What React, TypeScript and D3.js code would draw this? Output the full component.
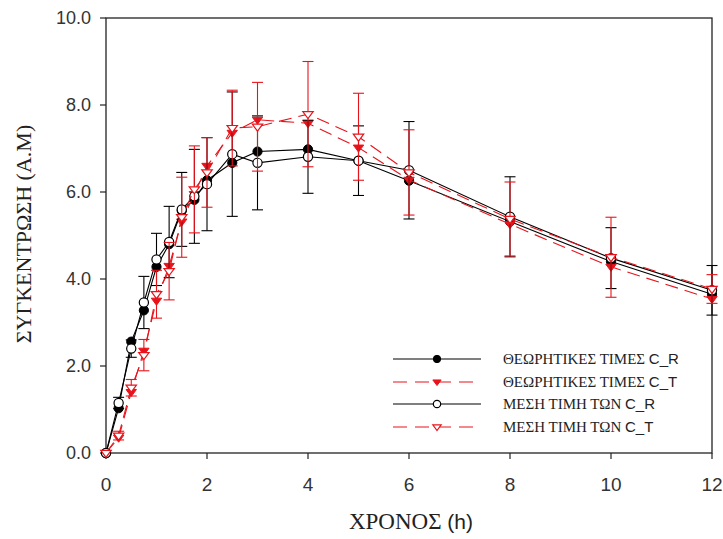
import React from "react";
import * as d3 from "d3";

const times = [0, 0.25, 0.5, 0.75, 1, 1.25, 1.5, 1.75, 2, 2.5, 3, 4, 5, 6, 8, 10, 12];
const theoR = [0, 1.03, 2.56, 3.28, 4.28, 4.8, 5.57, 5.82, 6.27, 6.67, 6.93, 6.98, 6.72, 6.26, 5.32, 4.4, 3.65];
const theoT = [0, 0.35, 1.4, 2.35, 3.5, 4.3, 5.32, 5.95, 6.6, 7.36, 7.66, 7.58, 7.02, 6.28, 5.26, 4.28, 3.54];
const meanR = [0, 1.15, 2.4, 3.46, 4.45, 4.85, 5.6, 5.9, 6.18, 6.87, 6.67, 6.81, 6.72, 6.5, 5.43, 4.48, 3.74];
const meanT = [0, 0.4, 1.5, 2.25, 3.65, 4.18, 5.42, 6.06, 6.45, 7.47, 7.5, 7.79, 7.27, 6.45, 5.38, 4.5, 3.77];
const sdR = [0, 0.13, 0.2, 0.6, 0.6, 0.82, 0.85, 1.08, 1.07, 1.43, 1.08, 0.84, 0.8, 1.12, 0.92, 0.7, 0.57];
const sdT = [0, 0.1, 0.19, 0.36, 0.55, 0.66, 0.92, 1.0, 0.8, 0.87, 1.02, 1.21, 1.0, 0.98, 0.85, 0.92, 0.33];

const xTicks = [0, 2, 4, 6, 8, 10, 12];
const yTicks = [0, 2, 4, 6, 8, 10];
const legendLabels = [
  ["ΘΕΩΡΗΤΙΚΕΣ ΤΙΜΕΣ ", "C_R"],
  ["ΘΕΩΡΗΤΙΚΕΣ ΤΙΜΕΣ ", "C_T"],
  ["ΜΕΣΗ ΤΙΜΗ ΤΩΝ ", "C_R"],
  ["ΜΕΣΗ ΤΙΜΗ ΤΩΝ ", "C_T"],
];

const W = 723;
const H = 539;
const L = 106, R = 712, T = 18, B = 453;
const RED = "#e8141c";
const DASH = "13,7";
const SANS = "'Liberation Sans', Arial, sans-serif";
const SERIF = "'Liberation Serif', 'Times New Roman', serif";

const x = d3.scaleLinear().domain([0, 12]).range([L, R]);
const y = d3.scaleLinear().domain([0, 10]).range([B, T]);

function tri(cx: number, cy: number, s: number) {
  const h = s * 0.9;
  return `M${cx - s},${cy - h * 0.55}L${cx + s},${cy - h * 0.55}L${cx},${cy + h * 0.95}Z`;
}

type Kind = "filledCircle" | "openCircle" | "filledTri" | "openTri";

function Marker({ kind, cx, cy, s = 1 }: { kind: Kind; cx: number; cy: number; s?: number }) {
  if (kind === "filledCircle") return <circle cx={cx} cy={cy} r={4.6 * s} fill="#000" stroke="#000" strokeWidth={1} />;
  if (kind === "openCircle") return <circle cx={cx} cy={cy} r={4.6 * s} fill="#fff" stroke="#000" strokeWidth={1.2} />;
  if (kind === "filledTri") return <path d={tri(cx, cy, 5.2 * s)} fill={RED} stroke={RED} strokeWidth={1} />;
  return <path d={tri(cx, cy, 5.2 * s)} fill="#fff" stroke={RED} strokeWidth={1.2} />;
}

export default function App() {
  const line = (vals: number[]) =>
    d3.line<number>().x((_, i) => x(times[i])).y((v) => y(v))(vals) || "";

  const series: { vals: number[]; color: string; dash?: string; kind: Kind; sd?: number[] }[] = [
    { vals: theoR, color: "#000", kind: "filledCircle" },
    { vals: theoT, color: RED, dash: DASH, kind: "filledTri" },
    { vals: meanR, color: "#000", kind: "openCircle", sd: sdR },
    { vals: meanT, color: RED, dash: DASH, kind: "openTri", sd: sdT },
  ];

  const cap = 5.5;
  const legY = [359, 382, 404, 427];

  return (
    <svg width={W} height={H} style={{ position: "absolute", left: 0, top: 0, background: "#fff" }}>
      <rect x={0} y={0} width={W} height={H} fill="#fff" />
      <rect x={L} y={T} width={R - L} height={B - T} fill="none" stroke="#222" strokeWidth={1.3} />
      {xTicks.map((t) => (
        <g key={"xt" + t}>
          <line x1={x(t)} x2={x(t)} y1={B} y2={B + 6} stroke="#222" strokeWidth={1.2} />
          <text x={x(t)} y={491} textAnchor="middle" fontFamily={SANS} fontSize={19} fill="#333">
            {t}
          </text>
        </g>
      ))}
      {yTicks.map((t) => (
        <g key={"yt" + t}>
          <line x1={L - 6} x2={L} y1={y(t)} y2={y(t)} stroke="#222" strokeWidth={1.2} />
          <text x={91} y={y(t) + 6} textAnchor="end" fontFamily={SANS} fontSize={18} fill="#333">
            {t.toFixed(1)}
          </text>
        </g>
      ))}
      <text x={411} y={529} textAnchor="middle" fontFamily={SERIF} fontSize={23} fill="#222">
        ΧΡΟΝΟΣ <tspan fontFamily={SANS} fontSize={21}>(h)</tspan>
      </text>
      <text
        transform={`translate(31,234) rotate(-90)`}
        textAnchor="middle"
        fontFamily={SERIF}
        fontSize={22}
        fill="#222"
      >
        ΣΥΓΚΕΝΤΡΩΣΗ (Α.Μ)
      </text>

      {series.map((s, si) => (
        <g key={"s" + si}>
          {s.sd &&
            s.vals.map((v, i) =>
              s.sd![i] > 0 ? (
                <g key={"e" + i} stroke={s.color} strokeWidth={1.1}>
                  <line x1={x(times[i])} x2={x(times[i])} y1={y(v - s.sd![i])} y2={y(v + s.sd![i])} />
                  <line x1={x(times[i]) - cap} x2={x(times[i]) + cap} y1={y(v + s.sd![i])} y2={y(v + s.sd![i])} />
                  <line x1={x(times[i]) - cap} x2={x(times[i]) + cap} y1={y(v - s.sd![i])} y2={y(v - s.sd![i])} />
                </g>
              ) : null
            )}
          <path d={line(s.vals)} fill="none" stroke={s.color} strokeWidth={1.1} strokeDasharray={s.dash} />
          {s.vals.map((v, i) => (
            <Marker key={"m" + i} kind={s.kind} cx={x(times[i])} cy={y(v)} />
          ))}
        </g>
      ))}

      {series.map((s, i) => (
        <g key={"l" + i}>
          <line x1={393} x2={481} y1={legY[i]} y2={legY[i]} stroke={s.color} strokeWidth={1.1} strokeDasharray={s.dash ? "14,8" : undefined} />
          <Marker kind={s.kind} cx={437} cy={legY[i]} s={0.8} />
          <text x={503} y={legY[i] + 5} fontFamily={SERIF} fontSize={15} fill="#222">
            {legendLabels[i][0]}
            <tspan fontFamily={SANS} fontSize={15}>{legendLabels[i][1]}</tspan>
          </text>
        </g>
      ))}
    </svg>
  );
}
